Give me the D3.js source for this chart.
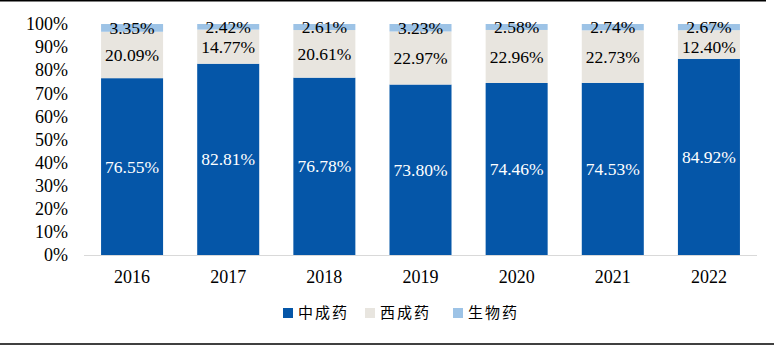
<!DOCTYPE html>
<html><head><meta charset="utf-8">
<script src="https://cdn.jsdelivr.net/npm/d3@7"></script>
<style>body{margin:0;background:#fff}svg{display:block}</style>
</head><body>
<svg id="c" width="774" height="349"></svg>
<script>
const years = ["2016","2017","2018","2019","2020","2021","2022"];
const seriesNames = ["中成药","西成药","生物药"];
const tcm = [76.55,82.81,76.78,73.80,74.46,74.53,84.92];
const western = [20.09,14.77,20.61,22.97,22.96,22.73,12.40];
const bio = [3.35,2.42,2.61,3.23,2.58,2.74,2.67];
const yTicks = [0,10,20,30,40,50,60,70,80,90,100];
const colors = ["#0556a8","#e8e5df","#9dc3e6"];

const svg = d3.select("#c");
const rows = years.map((y,i)=>({year:y,"中成药":tcm[i],"西成药":western[i],"生物药":bio[i]}));
const stack = d3.stack().keys(seriesNames)(rows);

const x = d3.scaleBand().domain(years).range([84,757]).paddingInner(0.355).paddingOuter(0.1775);
const y = d3.scaleLinear().domain([0,100]).range([255,24]);

// frame lines
svg.append("line").attr("x1",0).attr("x2",766).attr("y1",0.75).attr("y2",0.75).attr("stroke","#000").attr("stroke-width",1.5);
svg.append("line").attr("x1",0).attr("x2",774).attr("y1",344).attr("y2",344).attr("stroke","#000").attr("stroke-width",1.5);

// bars
stack.forEach((s,si)=>{
  svg.append("g").selectAll("rect").data(s).join("rect")
    .attr("x",d=>x(d.data.year)).attr("width",x.bandwidth())
    .attr("y",d=>y(d[1])).attr("height",d=>y(d[0])-y(d[1]))
    .attr("fill",colors[si]);
});

// x axis line
svg.append("line").attr("x1",84).attr("x2",757).attr("y1",255.5).attr("y2",255.5).attr("stroke","#d9d9d9").attr("stroke-width",1);

const font = "'Liberation Serif','Times New Roman',serif";
// y axis labels
const yAxis = d3.axisLeft(y).tickValues(yTicks).tickFormat(d=>d+"%").tickSize(0).tickPadding(0);
const gy = svg.append("g").attr("transform","translate(68,0)").call(yAxis);
gy.select(".domain").remove();
gy.selectAll("text").attr("font-family",font).attr("font-size",18).attr("fill","#000");

// x axis labels
const xAxis = d3.axisBottom(x).tickSize(0).tickPadding(0);
const gx = svg.append("g").attr("transform","translate(0,270)").call(xAxis);
gx.select(".domain").remove();
gx.selectAll("text").attr("font-family",font).attr("font-size",18).attr("fill","#000").attr("dy","0.71em");

// value labels
const mid = d => y((d[0]+d[1])/2);
stack.forEach((s,si)=>{
  svg.append("g").selectAll("text").data(s).join("text")
    .attr("x",d=>x(d.data.year)+x.bandwidth()/2)
    .attr("y",(d,i)=> si===1 ? Math.max(mid(d), mid(stack[2][i])+20) : mid(d))
    .attr("dy","0.35em")
    .attr("text-anchor","middle")
    .attr("font-family",font).attr("font-size",17.5)
    .attr("fill",si===0?"#fff":"#000")
    .text(d=>(d[1]-d[0]).toFixed(2)+"%");
});

// legend
const legX = [283,365,453];
const lg = svg.append("g");
seriesNames.forEach((n,i)=>{
  lg.append("rect").attr("x",legX[i]).attr("y",308).attr("width",10).attr("height",10).attr("fill",colors[i]);
  lg.append("text").attr("x",legX[i]+15).attr("y",313).attr("dy","0.36em")
    .attr("font-family","'Noto Sans CJK SC',sans-serif").attr("font-size",15)
    .attr("letter-spacing","2px").attr("fill","#000").text(n);
});
</script>
</body></html>
